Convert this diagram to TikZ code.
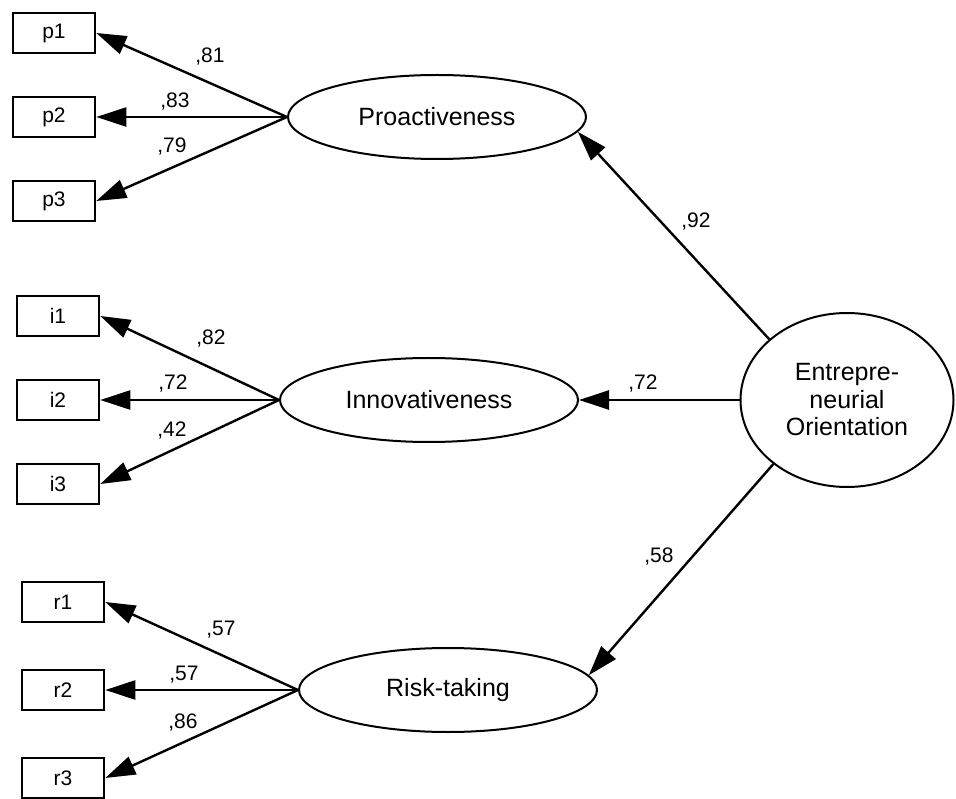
\documentclass[tikz,border=0pt]{standalone}
\usepackage{fontspec}
\setmainfont{Liberation Sans}
\usetikzlibrary{shapes.geometric,arrows.meta}
\begin{document}
\begin{tikzpicture}[x=1pt,y=-1pt,
 obs/.style={draw,line width=2.6pt,minimum width=82pt,minimum height=40pt,inner sep=0pt,font=\fontsize{21}{24}\selectfont},
 lat/.style={draw,ellipse,line width=2pt,minimum width=298pt,minimum height=84pt,inner sep=0pt,font=\fontsize{25}{27.5}\selectfont},
 sempath/.style={line width=2.4pt,-{Triangle[length=30pt,width=19pt]}},
 lbl/.style={anchor=base,inner sep=0pt,font=\fontsize{21}{24}\selectfont}]
\useasboundingbox (0,0) rectangle (956,799);
% observed variables
\node[obs] (p1) at (54,33) {p1};
\node[obs] (p2) at (54,117) {p2};
\node[obs] (p3) at (54,201) {p3};
\node[obs] (i1) at (58,316) {i1};
\node[obs] (i2) at (58,400) {i2};
\node[obs] (i3) at (58,484) {i3};
\node[obs] (r1) at (63,602) {r1};
\node[obs] (r2) at (63,690) {r2};
\node[obs] (r3) at (63,778) {r3};
% latent variables
\node[lat] (P) at (437,117) {Proactiveness};
\node[lat] (I) at (429,400) {Innovativeness};
\node[lat] (R) at (448,690) {Risk-taking};
\node[lat,minimum width=213pt,minimum height=174pt,align=center] (EO) at (847,400) {Entrepre-\\neurial\\Orientation};
% paths
\draw[sempath] (P.west) -- (p1.east);
\draw[sempath] (P.west) -- (p2.east);
\draw[sempath] (P.west) -- (p3.east);
\draw[sempath] (I.west) -- (i1.east);
\draw[sempath] (I.west) -- (i2.east);
\draw[sempath] (I.west) -- (i3.east);
\draw[sempath] (R.west) -- (r1.east);
\draw[sempath] (R.west) -- (r2.east);
\draw[sempath] (R.west) -- (r3.east);
\draw[sempath] (EO.142) -- (P.-6);
\draw[sempath] (EO.west) -- (I.east);
\draw[sempath] (EO.221) -- (R.6.5);
% labels
\node[lbl] (l1) at (210,63) {,81};
\node[lbl] (l2) at (175,108) {,83};
\node[lbl] (l3) at (172,153) {,79};
\node[lbl] (l4) at (211,345) {,82};
\node[lbl] (l5) at (173,390) {,72};
\node[lbl] (l6) at (172,437) {,42};
\node[lbl] (l7) at (221,635) {,57};
\node[lbl] (l8) at (184,680) {,57};
\node[lbl] (l9) at (183,728) {,86};
\node[lbl] (l10) at (696,228) {,92};
\node[lbl] (l11) at (643,390) {,72};
\node[lbl] (l12) at (659,562) {,58};
\end{tikzpicture}
\end{document}
